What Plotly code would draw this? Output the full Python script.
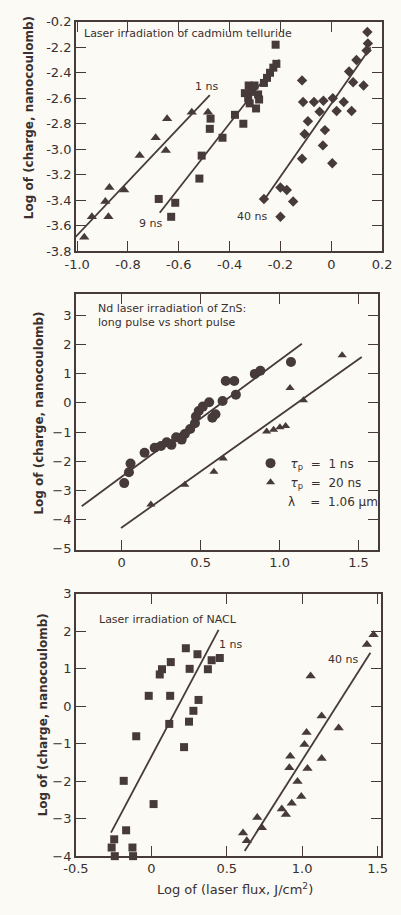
import plotly.graph_objects as go

# ---------------- Panel 1: cadmium telluride ----------------
cdte_1ns_x = [-1.006, -0.972, -0.942, -0.877, -0.889, -0.873, -0.815, -0.754, -0.691, -0.646, -0.651, -0.549, -0.485]
cdte_1ns_y = [-3.68, -3.69, -3.53, -3.53, -3.41, -3.30, -3.32, -3.05, -2.91, -2.76, -3.01, -2.71, -2.71]
cdte_9ns_x = [-0.679, -0.630, -0.614, -0.519, -0.510, -0.475, -0.478, -0.428, -0.379, -0.346, -0.340, -0.325,
              -0.302, -0.315, -0.288, -0.284, -0.327, -0.321, -0.296, -0.265, -0.253, -0.241, -0.228, -0.216, -0.219]
cdte_9ns_y = [-3.39, -3.53, -3.42, -3.23, -3.05, -2.76, -2.84, -2.91, -2.73, -2.80, -2.56, -2.50,
              -2.50, -2.55, -2.57, -2.61, -2.60, -2.64, -2.68, -2.48, -2.44, -2.40, -2.36, -2.33, -2.18]
cdte_40ns_x = [0.142, 0.144, 0.139, 0.099, 0.070, 0.086, 0.127, -0.115, -0.111, -0.068, -0.031, 0.006, 0.049,
               -0.046, 0.021, 0.080, -0.092, -0.025, -0.105, -0.033, -0.115, 0.004, -0.265, -0.200, -0.175,
               -0.150, -0.200]
cdte_40ns_y = [-2.08, -2.17, -2.225, -2.30, -2.39, -2.475, -2.50, -2.46, -2.63, -2.63, -2.62, -2.60, -2.63,
               -2.705, -2.70, -2.70, -2.78, -2.85, -2.88, -2.97, -3.075, -3.11, -3.39, -3.30, -3.32,
               -3.41, -3.53]
cdte_fit_1ns_x = [-1.012, -0.478]
cdte_fit_1ns_y = [-3.70, -2.576]
cdte_fit_9ns_x = [-0.675, -0.204]
cdte_fit_9ns_y = [-3.498, -2.297]
cdte_fit_40ns_x = [-0.265, 0.155]
cdte_fit_40ns_y = [-3.40, -2.20]
cdte_xticks = [-1.0, -0.8, -0.6, -0.4, -0.2, 0.0, 0.2]
cdte_xticklabels = ["-1.0", "-0.8", "-0.6", "-0.4", "-0.2", "0", "0.2"]
cdte_yticks = [-3.8, -3.6, -3.4, -3.2, -3.0, -2.8, -2.6, -2.4, -2.2, -2.0]
cdte_yticklabels = ["-3.8", "-3.6", "-3.4", "-3.2", "-3.0", "-2.8", "-2.6", "-2.4", "-2.2", "-0.2"]

# ---------------- Panel 2: ZnS ----------------
zns_1ns_x = [0.016, 0.046, 0.056, 0.145, 0.209, 0.249, 0.285, 0.315, 0.345, 0.380, 0.400, 0.434, 0.464,
             0.470, 0.488, 0.514, 0.554, 0.574, 0.594, 0.639, 0.659, 0.713, 0.723, 0.843, 0.878, 1.072]
zns_1ns_y = [-2.75, -2.38, -2.08, -1.71, -1.54, -1.48, -1.35, -1.44, -1.18, -1.26, -1.07, -0.90, -0.70,
             -0.47, -0.28, -0.13, 0.02, -0.51, -0.39, 0.06, 0.75, 0.75, 0.28, 0.99, 1.10, 1.40]
zns_20ns_x = [0.185, 0.400, 0.584, 0.643, 0.918, 0.962, 1.002, 1.038, 1.066, 1.151, 1.396]
zns_20ns_y = [-3.48, -2.81, -2.36, -1.91, -0.98, -0.92, -0.84, -0.79, 0.51, 0.09, 1.63]
zns_fit_1ns_x = [-0.253, 1.141]
zns_fit_1ns_y = [-3.54, 2.02]
zns_fit_20ns_x = [-0.004, 1.52]
zns_fit_20ns_y = [-4.29, 1.57]
zns_xticks = [0, 0.5, 1.0, 1.5]
zns_xticklabels = ["0", "0.5", "1.0", "1.5"]
zns_yticks = [-5, -4, -3, -2, -1, 0, 1, 2, 3]

# ---------------- Panel 3: NaCl ----------------
nacl_1ns_x = [0.229, 0.306, 0.129, 0.071, 0.056, 0.254, 0.375, 0.400, 0.454, -0.017, 0.125, 0.313, 0.279,
              0.250, 0.119, 0.217, -0.100, -0.183, 0.015, -0.167, -0.246, -0.263, -0.125, -0.242, -0.121]
nacl_1ns_y = [1.55, 1.39, 1.18, 0.99, 0.85, 1.00, 0.99, 1.23, 1.29, 0.28, 0.28, 0.17, -0.12,
              -0.41, -0.47, -1.09, -0.80, -1.99, -2.61, -3.31, -3.55, -3.77, -3.77, -4.0, -4.0]
nacl_40ns_x = [0.608, 0.633, 0.702, 0.733, 0.865, 0.892, 0.931, 0.994, 0.915, 0.921, 0.969, 1.035, 1.015,
               1.029, 1.056, 1.129, 1.129, 1.242, 1.429, 1.473]
nacl_40ns_y = [-3.38, -3.59, -2.97, -3.24, -2.74, -2.89, -2.59, -2.41, -1.64, -1.33, -2.01, -1.66, -1.02,
               -0.70, 0.81, -0.26, -1.39, -0.58, 1.65, 1.91]
nacl_fit_1ns_x = [-0.267, 0.446]
nacl_fit_1ns_y = [-3.37, 2.04]
nacl_fit_40ns_x = [0.619, 1.452]
nacl_fit_40ns_y = [-3.86, 1.43]
nacl_xticks = [-0.5, 0, 0.5, 1.0, 1.5]
nacl_xticklabels = ["-0.5", "0", "0.5", "1.0", "1.5"]
nacl_yticks = [-4, -3, -2, -1, 0, 1, 2, 3]

# ---------------- styling ----------------
INK = "#463a3a"
TXT = "#3a3030"
BG = "#fbfaf4"
FONT = "DejaVu Sans"
W, H = 401, 915


def px_x(p):
    return p / W


def px_y(p):
    return 1 - p / H


fig = go.Figure()


def pts(x, y, symbol, size, xa, ya, name=None, show=False):
    fig.add_trace(go.Scatter(x=x, y=y, mode="markers", xaxis=xa, yaxis=ya, name=name,
                             showlegend=show, cliponaxis=False,
                             marker=dict(symbol=symbol, size=size, color=INK, line=dict(width=0))))


def fit(x, y, xa, ya):
    fig.add_trace(go.Scatter(x=x, y=y, mode="lines", xaxis=xa, yaxis=ya, showlegend=False,
                             cliponaxis=False, line=dict(color=INK, width=1.8)))


# panel 1
fit(cdte_fit_1ns_x, cdte_fit_1ns_y, "x", "y")
fit(cdte_fit_9ns_x, cdte_fit_9ns_y, "x", "y")
fit(cdte_fit_40ns_x, cdte_fit_40ns_y, "x", "y")
pts(cdte_1ns_x, cdte_1ns_y, "triangle-up", 9, "x", "y")
pts(cdte_9ns_x, cdte_9ns_y, "square", 8, "x", "y")
pts(cdte_40ns_x, cdte_40ns_y, "diamond", 8, "x", "y")

# panel 2
fit(zns_fit_1ns_x, zns_fit_1ns_y, "x2", "y2")
fit(zns_fit_20ns_x, zns_fit_20ns_y, "x2", "y2")
pts(zns_1ns_x, zns_1ns_y, "circle", 10, "x2", "y2",
    name="<i>τ</i><sub>p</sub>\u00a0\u00a0=\u00a0\u00a01 ns", show=True)
pts(zns_20ns_x, zns_20ns_y, "triangle-up", 8, "x2", "y2",
    name="<i>τ</i><sub>p</sub>\u00a0\u00a0=\u00a0\u00a020 ns", show=True)

# panel 3
fit(nacl_fit_1ns_x, nacl_fit_1ns_y, "x3", "y3")
fit(nacl_fit_40ns_x, nacl_fit_40ns_y, "x3", "y3")
pts(nacl_1ns_x, nacl_1ns_y, "square", 8, "x3", "y3")
pts(nacl_40ns_x, nacl_40ns_y, "triangle-up", 9, "x3", "y3")

axis_common = dict(showline=True, linecolor=INK, linewidth=1.5, mirror="allticks", ticks="inside",
                   ticklen=10, tickwidth=1.2, tickcolor=INK, showgrid=False, zeroline=False,
                   tickfont=dict(family=FONT, size=13, color=TXT), fixedrange=True)

fig.update_layout(
    width=W, height=H, margin=dict(l=0, r=0, t=0, b=0),
    paper_bgcolor=BG, plot_bgcolor=BG,
    font=dict(family=FONT, color=TXT, size=11),
    xaxis=dict(domain=[px_x(66.7), px_x(391.7)], range=[-1.005, 0.2005], anchor="y",
               tickvals=cdte_xticks, ticktext=cdte_xticklabels, **axis_common),
    yaxis=dict(domain=[px_y(248.3), px_y(15)], range=[-3.8, -2.0], anchor="x",
               tickvals=cdte_yticks, ticktext=cdte_yticklabels, **axis_common),
    xaxis2=dict(domain=[px_x(66.7), px_x(386.7)], range=[-0.29, 1.62], anchor="y2",
                tickvals=zns_xticks, ticktext=zns_xticklabels, **axis_common),
    yaxis2=dict(domain=[px_y(551.7), px_y(291.7)], range=[-5.03, 3.73], anchor="x2",
                tickvals=zns_yticks, **axis_common),
    xaxis3=dict(domain=[px_x(66.7), px_x(390)], range=[-0.5, 1.52], anchor="y3",
                tickvals=nacl_xticks, ticktext=nacl_xticklabels, **axis_common),
    yaxis3=dict(domain=[px_y(863.3), px_y(596.7)], range=[-4.0, 3.0], anchor="x3",
                tickvals=nacl_yticks, **axis_common),
    legend=dict(x=px_x(252), y=px_y(449), xanchor="left", yanchor="top",
                bgcolor="rgba(0,0,0,0)", font=dict(family=FONT, size=12, color=TXT),
                itemwidth=30, tracegroupgap=0),
)

ann = []


def text(s, x, y, xref, yref, size=11, xanchor="center", yanchor="middle", angle=0, align="left"):
    ann.append(dict(text=s, x=x, y=y, xref=xref, yref=yref, showarrow=False, xanchor=xanchor,
                    yanchor=yanchor, textangle=angle, align=align,
                    font=dict(family=FONT, size=size, color=TXT)))


# panel texts
text("Laser irradiation of cadmium telluride", -0.98, -2.093, "x", "y", xanchor="left")
text("1 ns", -0.49, -2.51, "x", "y")
text("9 ns", -0.71, -3.58, "x", "y")
text("40 ns", -0.31, -3.53, "x", "y")

text("Nd laser irradiation of ZnS:<br>long pulse vs short pulse", -0.16, 3.0, "x2", "y2", xanchor="left")
text("λ\u00a0\u00a0\u00a0\u00a0=\u00a0\u00a01.06 µm", px_x(290), px_y(503), "paper", "paper", size=12, xanchor="left")

text("Laser irradiation of NACL", -0.36, 2.31, "x3", "y3", xanchor="left")
text("1 ns", 0.525, 1.65, "x3", "y3")
text("40 ns", 1.27, 1.25, "x3", "y3")

# axis titles
ytitle = "<b>Log of (charge, nanocoulomb)</b>"
text(ytitle, px_x(17), px_y(113), "paper", "paper", size=12, angle=-90)
text(ytitle, px_x(28), px_y(413), "paper", "paper", size=12, angle=-90)
text(ytitle, px_x(32), px_y(720), "paper", "paper", size=12, angle=-90)
text("Log of (laser flux, J/cm<sup>2</sup>)", px_x(235), px_y(897), "paper", "paper", size=13)

fig.update_layout(annotations=ann)
fig.write_html("out.html", config={"displayModeBar": False},
               post_script="document.body.style.margin='0';document.body.style.background='%s';" % BG)
